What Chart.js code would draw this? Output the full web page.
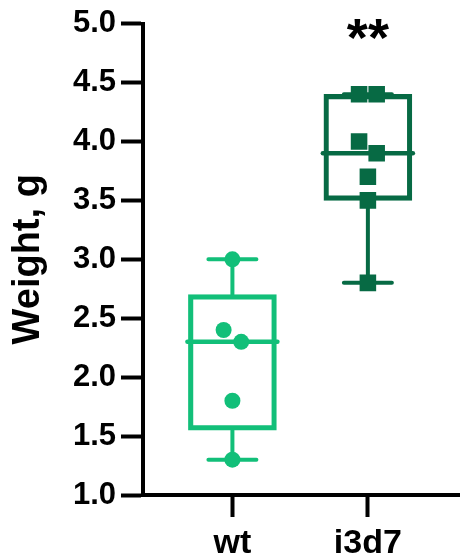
<!DOCTYPE html>
<html>
<head>
<meta charset="utf-8">
<script src="https://cdn.jsdelivr.net/npm/chart.js@4/dist/chart.umd.min.js"></script>
<style>
  html, body { margin: 0; padding: 0; background: #fff; }
  #box { width: 460px; height: 559px; }
</style>
</head>
<body>
<div id="box"><canvas id="weightChart"></canvas></div>
<script>
const categories = ['wt', 'i3d7'];
const wtWeights = [3.0, 2.4, 2.3, 1.8, 1.3];
const i3d7Weights = [4.4, 4.4, 4.0, 3.9, 3.7, 3.5, 2.8];
const yTickValues = [1.0, 1.5, 2.0, 2.5, 3.0, 3.5, 4.0, 4.5, 5.0];
const significance = ['', '**'];

const groups = [wtWeights, i3d7Weights];
const colors = ['#12bf79', '#076a44'];
const FONT = "'Liberation Sans', Arial, sans-serif";
const BOX_WIDTH = 88;
const JITTER = 0.13;

// percentile with (n+1) positions, like Prism
function quantile(sorted, p) {
  const pos = p * (sorted.length + 1) - 1;
  const lo = Math.max(0, Math.min(sorted.length - 1, Math.floor(pos)));
  const hi = Math.max(0, Math.min(sorted.length - 1, Math.ceil(pos)));
  return sorted[lo] + (sorted[hi] - sorted[lo]) * (pos - Math.floor(pos));
}

function stats(vals) {
  const s = [...vals].sort((a, b) => a - b);
  return {
    min: s[0],
    q1: quantile(s, 0.25),
    med: quantile(s, 0.5),
    q3: quantile(s, 0.75),
    max: s[s.length - 1],
  };
}

// spread points that sit close together side by side
function spread(vals, center) {
  const idx = vals.map((v, i) => i).sort((a, b) => vals[b] - vals[a]);
  const out = [];
  let cluster = [];
  const flush = () => {
    cluster.forEach((j, k) => {
      out[j] = { x: center + (k - (cluster.length - 1) / 2) * JITTER, y: vals[j] };
    });
    cluster = [];
  };
  idx.forEach(j => {
    if (cluster.length && vals[cluster[cluster.length - 1]] - vals[j] > 0.15) flush();
    cluster.push(j);
  });
  flush();
  return out;
}

const boxStats = groups.map(stats);

const boxExtras = {
  id: 'boxExtras',
  beforeDatasetsDraw(chart) {
    const { ctx, scales: { x, y } } = chart;
    boxStats.forEach((s, i) => {
      const cx = x.getPixelForValue(i + 1);
      ctx.save();
      ctx.strokeStyle = colors[i];
      ctx.lineCap = 'round';
      ctx.lineWidth = 4;
      ctx.beginPath();
      ctx.moveTo(cx, y.getPixelForValue(s.q3));
      ctx.lineTo(cx, y.getPixelForValue(s.max));
      ctx.moveTo(cx, y.getPixelForValue(s.q1));
      ctx.lineTo(cx, y.getPixelForValue(s.min));
      ctx.moveTo(cx - 24, y.getPixelForValue(s.max));
      ctx.lineTo(cx + 24, y.getPixelForValue(s.max));
      ctx.moveTo(cx - 24, y.getPixelForValue(s.min));
      ctx.lineTo(cx + 24, y.getPixelForValue(s.min));
      ctx.stroke();
      ctx.lineWidth = 4.5;
      ctx.beginPath();
      ctx.moveTo(cx - BOX_WIDTH / 2 - 1, y.getPixelForValue(s.med));
      ctx.lineTo(cx + BOX_WIDTH / 2 + 1, y.getPixelForValue(s.med));
      ctx.stroke();
      ctx.restore();
    });
  },
  afterDraw(chart) {
    const { ctx, scales: { x } } = chart;
    ctx.save();
    ctx.fillStyle = '#000';
    ctx.font = 'bold 54px ' + FONT;
    ctx.textAlign = 'center';
    ctx.textBaseline = 'alphabetic';
    significance.forEach((t, i) => {
      if (!t) return;
      ctx.fillText(t, x.getPixelForValue(i + 1), 56);
    });
    ctx.restore();
  }
};

new Chart(document.getElementById('weightChart'), {
  type: 'bar',
  data: {
    datasets: [
      {
        type: 'bar',
        order: 1,
        data: boxStats.map((s, i) => ({ x: i + 1, y: [s.q1, s.q3] })),
        backgroundColor: 'rgba(0,0,0,0)',
        borderColor: colors,
        borderWidth: 4.5,
        borderSkipped: false,
        barThickness: BOX_WIDTH,
      },
      {
        type: 'scatter',
        order: 0,
        data: spread(wtWeights, 1),
        pointStyle: 'circle',
        pointRadius: 8,
        pointBackgroundColor: colors[0],
        pointBorderWidth: 0,
      },
      {
        type: 'scatter',
        order: 0,
        data: spread(i3d7Weights, 2),
        pointStyle: 'rect',
        pointRadius: 11.7,
        pointBackgroundColor: colors[1],
        pointBorderWidth: 0,
      },
    ]
  },
  options: {
    responsive: true,
    maintainAspectRatio: false,
    animation: false,
    layout: { autoPadding: false, padding: { top: 20, right: 0, left: 0, bottom: 0 } },
    plugins: {
      legend: { display: false },
      tooltip: { enabled: false }
    },
    scales: {
      x: {
        type: 'linear',
        min: 0.34,
        max: 2.68,
        offset: false,
        afterBuildTicks: axis => { axis.ticks = categories.map((c, i) => ({ value: i + 1 })); },
        afterFit: scale => { scale.height = 64; },
        border: { display: true, color: '#000', width: 4 },
        grid: { offset: false, drawOnChartArea: false, drawTicks: true, tickLength: 22, tickWidth: 4, tickColor: '#000' },
        ticks: {
          color: '#000',
          padding: 6,
          font: { family: FONT, size: 34, weight: 'bold' },
          callback: v => categories[v - 1],
        },
      },
      y: {
        min: 1,
        max: 5,
        afterBuildTicks: axis => { axis.ticks = yTickValues.map(v => ({ value: v })); },
        afterFit: scale => { scale.width = 143; },
        border: { display: true, color: '#000', width: 4 },
        grid: { drawOnChartArea: false, drawTicks: true, tickLength: 22, tickWidth: 4, tickColor: '#000' },
        ticks: {
          color: '#000',
          padding: 5,
          font: { family: FONT, size: 31, weight: 'bold' },
          callback: v => v.toFixed(1),
        },
        title: {
          display: true,
          text: 'Weight, g',
          color: '#000',
          padding: { top: 6, bottom: 0 },
          font: { family: FONT, size: 38, weight: 'bold' },
        },
      },
    }
  },
  plugins: [boxExtras]
});
</script>
</body>
</html>
